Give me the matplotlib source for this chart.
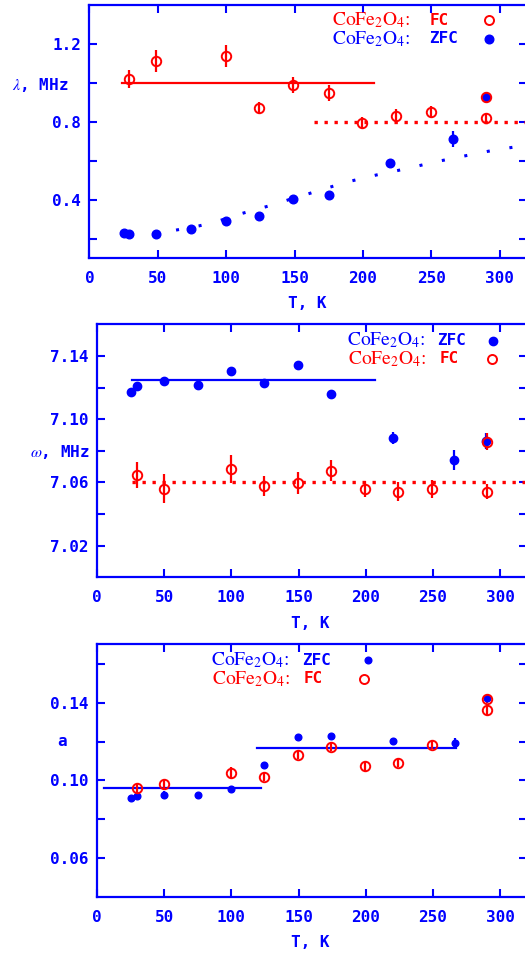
import numpy as np
import matplotlib
matplotlib.use('Agg')
import matplotlib.pyplot as plt

plt.rcParams['mathtext.fontset'] = 'stix'

BLUE = '#0000ff'
RED = '#ff0000'

# ---- panel 1: lambda ----
t_zfc1 = [25, 29, 49, 74, 100, 124, 149, 175, 220, 266, 290]
lam_zfc = [0.229, 0.221, 0.226, 0.248, 0.289, 0.316, 0.403, 0.424, 0.590, 0.711, 0.925]
lam_zfc_err = [0.005, 0.005, 0.005, 0.006, 0.008, 0.01, 0.01, 0.01, 0.02, 0.04, 0.03]

t_fc1 = [29, 49, 100, 124, 149, 175, 199, 224, 250, 290, 290]
lam_fc = [1.019, 1.113, 1.138, 0.870, 0.990, 0.947, 0.793, 0.829, 0.850, 0.819, 0.925]
lam_fc_err = [0.047, 0.057, 0.058, 0.032, 0.04, 0.04, 0.03, 0.035, 0.03, 0.025, 0.03]

# fitted curve through ZFC
t_fit1 = [30, 36, 58, 70, 80, 92, 112, 123, 134, 145, 156, 166, 188, 210, 231, 253, 276, 297, 320]
lam_fit = [0.222, 0.225, 0.237, 0.252, 0.265, 0.285, 0.330, 0.352, 0.373, 0.398, 0.421, 0.443, 0.490, 0.527, 0.558, 0.594, 0.627, 0.656, 0.680]

# ---- panel 2: omega ----
t_zfc2 = [25, 29.7, 50, 75, 100, 124.6, 149.7, 174.4, 220, 265.6, 289.8]
om_zfc = [7.1172, 7.1212, 7.1244, 7.1217, 7.1303, 7.1229, 7.1341, 7.1160, 7.0880, 7.0743, 7.0860]
om_zfc_err = [0.001, 0.001, 0.001, 0.003, 0.001, 0.001, 0.001, 0.001, 0.004, 0.0063, 0.005]

t_fc2 = [29.7, 50, 100, 124.6, 149.7, 174.4, 199.4, 224.3, 249.4, 289.9, 289.9]
om_fc = [7.0646, 7.0561, 7.0684, 7.0576, 7.0597, 7.0675, 7.0559, 7.0540, 7.0559, 7.0542, 7.0858]
om_fc_err = [0.0084, 0.0093, 0.009, 0.0063, 0.007, 0.0065, 0.005, 0.006, 0.0058, 0.0045, 0.0054]

# ---- panel 3: a ----
t_zfc3 = [25, 29.7, 50, 75, 100, 124.6, 149.7, 174.4, 220, 266.2, 289.9]
a_zfc = [0.0908, 0.0920, 0.0926, 0.0926, 0.0957, 0.1079, 0.1222, 0.1229, 0.1202, 0.1190, 0.1424]
a_zfc_err = [0.001, 0.001, 0.002, 0.001, 0.001, 0.0015, 0.0015, 0.001, 0.0015, 0.003, 0.002]

t_fc3 = [29.7, 50, 100, 124.6, 149.7, 174.4, 199.4, 224.3, 249.4, 289.9, 289.9]
a_fc = [0.0961, 0.0979, 0.1039, 0.1019, 0.1133, 0.1174, 0.1073, 0.1092, 0.1181, 0.1419, 0.1361]
a_fc_err = [0.0025, 0.003, 0.003, 0.002, 0.0025, 0.0025, 0.0025, 0.0025, 0.002, 0.002, 0.003]

xticks = [0, 50, 100, 150, 200, 250, 300]

mono = dict(family='DejaVu Sans Mono', weight='bold', size=11.5)

fig = plt.figure(figsize=(5.25, 9.55), dpi=100)
ax1 = fig.add_axes([0.1703, 0.7298, 0.8335, 0.2649])
ax2 = fig.add_axes([0.1848, 0.3955, 0.819, 0.2649])
ax3 = fig.add_axes([0.1848, 0.0607, 0.819, 0.2646])


def style(ax, major, minor, fmt, ylab, labx, laby):
    ax.set_xlim(0, 320)
    for s in ax.spines.values():
        s.set_color(BLUE)
        s.set_linewidth(1.6)
    ax.set_xticks(xticks)
    ax.set_xticklabels([str(v) for v in xticks], fontdict=mono, color=BLUE)
    ax.set_yticks(major)
    ax.set_yticklabels([fmt % v for v in major], fontdict=mono, color=BLUE)
    ax.set_yticks(minor, minor=True)
    ax.tick_params(which='both', direction='in', length=5.5, width=1.5, color=BLUE,
                   top=True, right=True)
    ax.tick_params(axis='x', pad=9)
    ax.tick_params(axis='y', pad=6)
    ax.set_xlabel('T, K', fontdict=mono, color=BLUE)
    ax.xaxis.set_label_coords(0.497, -0.152)
    ax.set_ylabel(ylab, fontdict=mono, color=BLUE, rotation=0, ha='right', va='center')
    ax.yaxis.set_label_coords(labx, laby)


def legend_row(ax, x0, x1, xm, y, name, color, filled, ms):
    ax.text(x0, y, r'CoFe$_2$O$_4$:', family='STIXGeneral', size=14, color=color, va='center')
    ax.text(x1, y, name, fontdict=mono, color=color, va='center')
    if filled:
        ax.plot(xm, y, 'o', color=color, ms=ms, clip_on=False)
    else:
        ax.plot(xm, y, 'o', mfc='none', mec=color, mew=1.4, ms=ms, clip_on=False)


# panel 1
ax1.set_ylim(0.1, 1.4)
ax1.plot(t_fit1, lam_fit, color=BLUE, lw=2.2, ls=(0, (1, 6.5)))
ax1.plot([24, 208], [1.0, 1.0], color=RED, lw=1.6)
ax1.plot([164, 320], [0.8, 0.8], color=RED, lw=2.4, ls=(0, (1, 2)))
ax1.errorbar(t_zfc1, lam_zfc, yerr=lam_zfc_err, fmt='o', color=BLUE, ms=6.2, elinewidth=1.6, capsize=0)
ax1.errorbar(t_fc1, lam_fc, yerr=lam_fc_err, fmt='o', color=RED, mfc='none', mew=1.4, ms=6.8,
             elinewidth=1.6, capsize=0)
style(ax1, [0.4, 0.8, 1.2], [0.2, 0.6, 1.0], '%.1f', r'$\lambda$, MHz', -0.049, 0.684)
legend_row(ax1, 177.4, 248.6, 292, 1.323, 'FC', RED, False, 6.5)
legend_row(ax1, 177.4, 248.6, 292, 1.226, 'ZFC', BLUE, True, 6.2)

# panel 2
ax2.set_ylim(7.0, 7.16)
ax2.plot([26, 207], [7.125, 7.125], color=BLUE, lw=1.6)
ax2.plot([26, 320], [7.06, 7.06], color=RED, lw=2.4, ls=(0, (1, 2)))
ax2.errorbar(t_zfc2, om_zfc, yerr=om_zfc_err, fmt='o', color=BLUE, ms=6.0, elinewidth=1.6, capsize=0)
ax2.errorbar(t_fc2, om_fc, yerr=om_fc_err, fmt='o', color=RED, mfc='none', mew=1.4, ms=6.8,
             elinewidth=1.6, capsize=0)
style(ax2, [7.02, 7.06, 7.10, 7.14], [7.04, 7.08, 7.12], '%.2f', r'$\omega$, MHz', -0.016, 0.496)
legend_row(ax2, 186, 253.4, 295, 7.1497, 'ZFC', BLUE, True, 6.0)
legend_row(ax2, 187, 254.9, 294, 7.1381, 'FC', RED, False, 6.5)

# panel 3
ax3.set_ylim(0.04, 0.17)
ax3.plot([5, 122], [0.0961, 0.0961], color=BLUE, lw=1.6)
ax3.plot([119, 267], [0.1168, 0.1168], color=BLUE, lw=1.6)
ax3.errorbar(t_zfc3, a_zfc, yerr=a_zfc_err, fmt='o', color=BLUE, ms=4.8, elinewidth=1.6, capsize=0)
ax3.errorbar(t_fc3, a_fc, yerr=a_fc_err, fmt='o', color=RED, mfc='none', mew=1.4, ms=6.8,
             elinewidth=1.6, capsize=0)
style(ax3, [0.06, 0.10, 0.14], [0.08, 0.12, 0.16], '%.2f', 'a', -0.071, 0.615)
legend_row(ax3, 84.7, 152.6, 201.9, 0.1617, 'ZFC', BLUE, True, 4.8)
legend_row(ax3, 85.4, 153.4, 198.9, 0.1522, 'FC', RED, False, 6.5)

fig.savefig('out.png', dpi=100)
